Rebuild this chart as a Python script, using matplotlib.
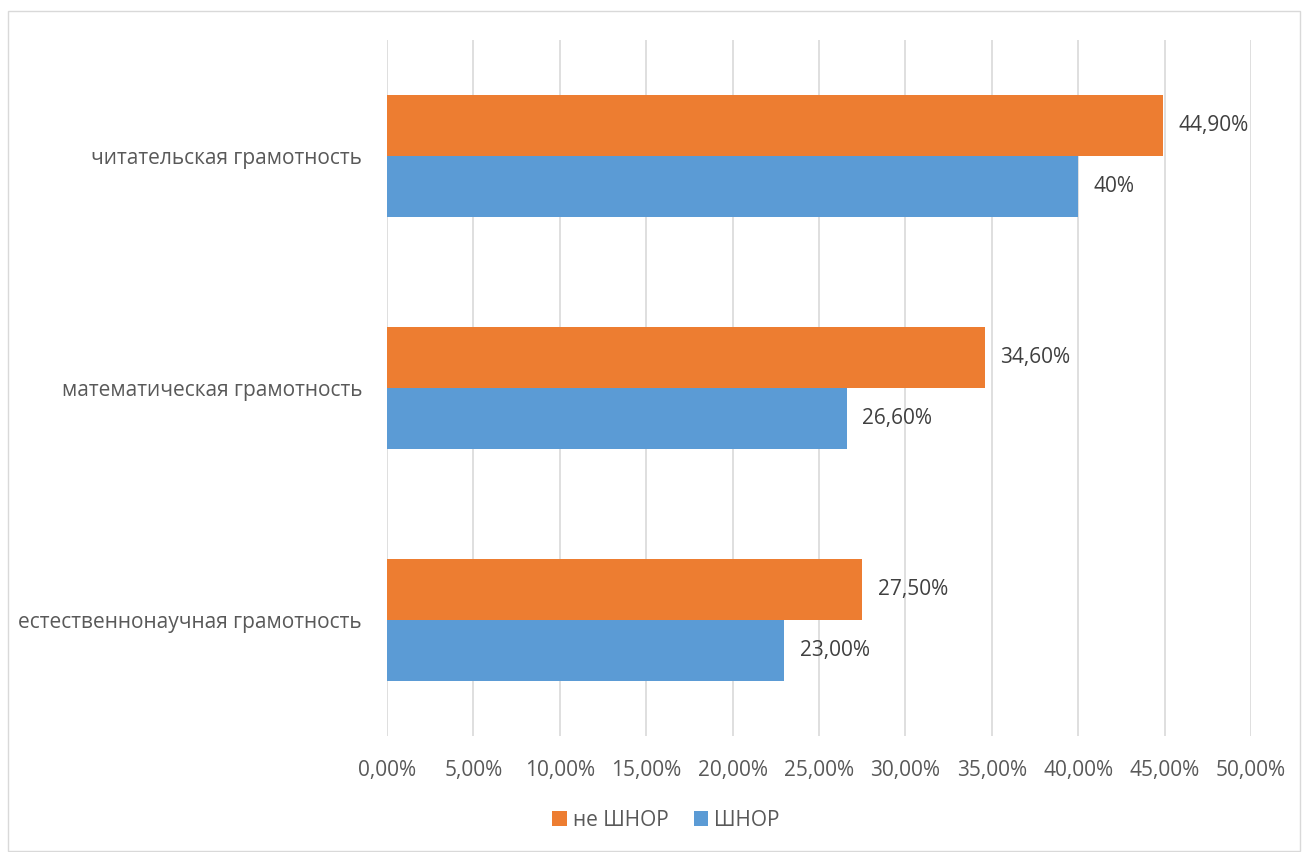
import numpy as np
import matplotlib.pyplot as plt
from matplotlib.patches import Rectangle

plt.rcParams['font.family'] = ['Open Sans', 'DejaVu Sans']

# данные
categories = ['читательская грамотность', 'математическая грамотность', 'естественнонаучная грамотность']
ne_shnor = [44.9, 34.6, 27.5]
shnor = [40.0, 26.6, 23.0]
ne_shnor_labels = ['44,90%', '34,60%', '27,50%']
shnor_labels = ['40%', '26,60%', '23,00%']
ticks = [0, 5, 10, 15, 20, 25, 30, 35, 40, 45, 50]
tick_labels = ['0,00%', '5,00%', '10,00%', '15,00%', '20,00%', '25,00%',
               '30,00%', '35,00%', '40,00%', '45,00%', '50,00%']

orange = '#ED7D31'
blue = '#5B9BD5'
txt = '#595959'
fs = 15

W, H = 1306, 852
fig = plt.figure(figsize=(W / 100, H / 100), dpi=100)
ax = fig.add_axes([387 / W, 1 - 736 / H, (1251 - 387) / W, (736 - 40) / H])

# рамка вокруг диаграммы
fig.patches.append(Rectangle((8 / W, 1 / H), (1300 - 8) / W, (851 - 11) / H,
                             transform=fig.transFigure, fill=False,
                             edgecolor='#D9D9D9', linewidth=1))

y = np.arange(len(categories))
h = 0.263
ax.barh(y - h / 2, ne_shnor, height=h, color=orange, label='не ШНОР')
ax.barh(y + h / 2, shnor, height=h, color=blue, label='ШНОР')

for i in range(len(categories)):
    ax.text(ne_shnor[i] + 0.9, y[i] - h / 2, ne_shnor_labels[i], va='center', ha='left',
            fontsize=fs, color='#404040')
    ax.text(shnor[i] + 0.9, y[i] + h / 2, shnor_labels[i], va='center', ha='left',
            fontsize=fs, color='#404040')

ax.set_xlim(0, 50)
ax.set_ylim(2.5, -0.5)
ax.set_xticks(ticks)
ax.set_xticklabels(tick_labels, fontsize=fs, color=txt)
ax.set_yticks(y)
ax.set_yticklabels(categories, fontsize=fs, color=txt)
ax.tick_params(axis='x', length=0, pad=17)
ax.tick_params(axis='y', length=0, pad=18)
ax.grid(axis='x', color='#D9D9D9', linewidth=1.2)
ax.set_axisbelow(True)
for s in ax.spines.values():
    s.set_visible(False)

ax.legend(loc='center', bbox_to_anchor=(666 / W, 1 - 820 / H), bbox_transform=fig.transFigure,
          ncol=2, frameon=False, fontsize=fs, handlelength=0.7, handleheight=0.7,
          handletextpad=0.3, columnspacing=1.2, labelcolor=txt)

fig.savefig('out.png', dpi=100)
